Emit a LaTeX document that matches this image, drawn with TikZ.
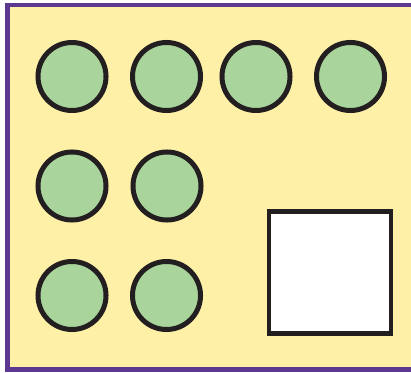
\documentclass[tikz,border=0pt]{standalone}
\usepackage{tikz}
\usepackage{xcolor}

\definecolor{frameviolet}{HTML}{5C3891}
\definecolor{boardyellow}{HTML}{FFF0A8}
\definecolor{counterfill}{HTML}{A9D59C}
\definecolor{inkdark}{HTML}{231F20}

\tikzset{
  counter/.style={circle, draw=inkdark, fill=counterfill,
    line width=0.125cm, minimum size=1.7cm, inner sep=0pt},
  emptybox/.style={draw=inkdark, fill=white, line width=0.115cm}
}

\begin{document}
\begin{tikzpicture}[x=0.025cm, y=-0.025cm]
  \useasboundingbox (0,0) rectangle (411,372);
  \clip (0,0) rectangle (411,372);
  %% Board with violet frame (open on the right)
  \fill[frameviolet] (5,3) rectangle (420,372);
  \fill[boardyellow] (10,7) rectangle (420,367);
  %% Top row of counters
  \node[counter] (c1) at (72,76.5) {};
  \node[counter] (c2) at (166.5,76.5) {};
  \node[counter] (c3) at (256,76.5) {};
  \node[counter] (c4) at (350.5,76.5) {};
  %% Second row
  \node[counter] (c5) at (72,186) {};
  \node[counter] (c6) at (167,186) {};
  %% Third row
  \node[counter] (c7) at (72,295.5) {};
  \node[counter] (c8) at (166.5,295.5) {};
  %% Empty square
  \draw[emptybox] (269,211.5) rectangle (391,333.5);
\end{tikzpicture}
\end{document}
